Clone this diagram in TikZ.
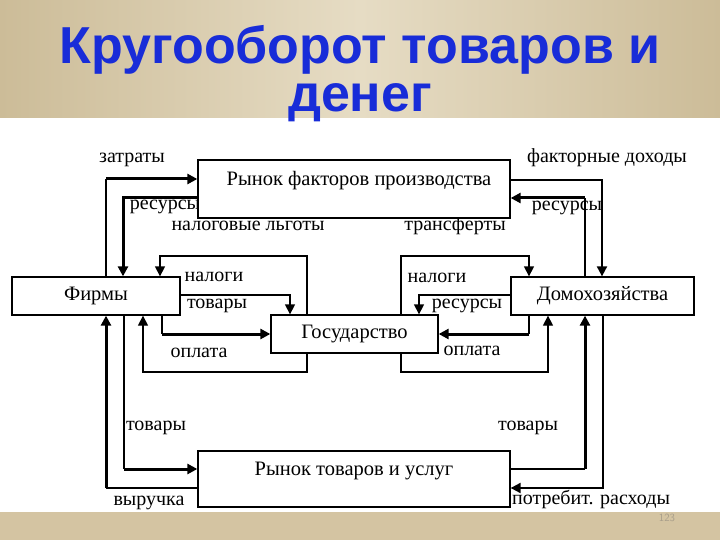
\documentclass[tikz,border=0pt]{standalone}
\usepackage{fontspec}
\setmainfont{Liberation Serif}
\newfontfamily\titlefont{Liberation Sans}
\usetikzlibrary{arrows.meta}
\definecolor{ttl}{RGB}{24,44,216}
\definecolor{tanD}{RGB}{204,188,152}
\definecolor{tanL}{RGB}{230,220,196}
\definecolor{tanB}{RGB}{212,196,162}
\definecolor{pgc}{RGB}{168,158,138}
\begin{document}
\begin{tikzpicture}[x=1pt,y=-1pt,
  box/.style={draw, line width=1.3pt, fill=white, inner sep=0pt, text height=13pt, text depth=4pt, font=\fontsize{20.5}{23}\selectfont},
  lab/.style={inner sep=0pt, anchor=base, font=\fontsize{20}{22}\selectfont},
  w1/.style={line width=1.3pt},
  w2/.style={line width=2pt},
  w3/.style={line width=3pt},
  arr/.style={-{Triangle[length=10pt,width=10pt]}}]
\useasboundingbox (0,0) rectangle (720,540);
% background bands
\shade[left color=tanD, right color=tanD, middle color=tanL] (0,0) rectangle (720,118);
\fill[tanB] (0,512) rectangle (720,540);
\node[inner sep=0pt, anchor=base, text=pgc, font=\sffamily\fontsize{11}{12}\selectfont] (pg) at (667,521) {123};
% title
\node[inner sep=0pt, anchor=base, text=ttl, font=\titlefont\bfseries\fontsize{52}{56}\selectfont] (t1) at (360,64) {Кругооборот товаров и};
\node[inner sep=0pt, anchor=base, text=ttl, font=\titlefont\bfseries\fontsize{52}{56}\selectfont] (t2) at (360,112) {денег};
% labels
\node[lab] (l1) at (132,163) {затраты};
\node[lab] (l2) at (165,210) {ресурсы};
\node[lab] (l3) at (248,230) {налоговые льготы};
\node[lab] (l4) at (455,230) {трансферты};
\node[lab] (l5) at (607,163) {факторные доходы};
\node[lab] (l6) at (567,211) {ресурсы};
\node[lab] (l7) at (214,281) {налоги};
\node[lab] (l8) at (217,308) {товары};
\node[lab] (l9) at (199,357) {оплата};
\node[lab] (l10) at (437,282) {налоги};
\node[lab] (l11) at (467,308) {ресурсы};
\node[lab] (l12) at (472,355) {оплата};
\node[lab] (l13) at (156,430) {товары};
\node[lab] (l14) at (149,505) {выручка};
\node[lab] (l15) at (528,430) {товары};
\node[lab] (l16) at (591,504) {потребит. расходы};
% boxes
\node[box, minimum width=312pt, minimum height=58pt, text depth=19pt] (fm) at (354,189) {\hspace*{10pt}Рынок факторов производства};
\node[box, minimum width=168pt, minimum height=38pt] (fi) at (96,296) {Фирмы};
\node[box, minimum width=167pt, minimum height=38pt] (go) at (354.5,334) {Государство};
\node[box, minimum width=183pt, minimum height=38pt] (ho) at (602.5,296) {Домохозяйства};
\node[box, minimum width=312pt, minimum height=56pt, text depth=21pt] (gm) at (354,479) {Рынок товаров и услуг};
% corner coordinates
\coordinate (z1) at (106,179);
\coordinate (r1) at (123,198);
\coordinate (g1) at (307,256);
\coordinate (g2) at (160,256);
\coordinate (t1c) at (290,295);
\coordinate (c1) at (162,334);
\coordinate (o1) at (307,372);
\coordinate (o2) at (143,372);
\coordinate (v1) at (106,488);
\coordinate (tb) at (124,469);
\coordinate (f1) at (602,180);
\coordinate (r2) at (585,198);
\coordinate (tr1) at (401,256);
\coordinate (tr2) at (529,256);
\coordinate (n1) at (419,295);
\coordinate (p1) at (529,334);
\coordinate (q1) at (401,372);
\coordinate (q2) at (548,372);
\coordinate (u1) at (585,469);
\coordinate (s1) at (603,488);
% left connectors
\draw[w2] (fi.north -| z1) -- (z1);
\draw[w3,arr] (z1) -- (fm.west |- z1);
\draw[w3,arr] (fm.west |- r1) -| (fi.north -| r1);
\draw[w1,arr] (go.north -| g1) -- (g1) -| (fi.north -| g2);
\draw[w1,arr] (fi.east |- t1c) -| (go.north -| t1c);
\draw[w1] (fi.south -| c1) -- (c1);
\draw[w3,arr] (c1) -- (go.west |- c1);
\draw[w1,arr] (go.south -| o1) -- (o1) -| (fi.south -| o2);
\draw[w2] (gm.west |- v1) -- (v1);
\draw[w3,arr] (v1) -- (fi.south -| v1);
\draw[w1] (fi.south -| tb) -- (tb);
\draw[w3,arr] (tb) -- (gm.west |- tb);
% right connectors
\draw[w2,arr] (fm.east |- f1) -| (ho.north -| f1);
\draw[w1] (ho.north -| r2) -- (r2);
\draw[w3,arr] (r2) -- (fm.east |- r2);
\draw[w1,arr] (go.north -| tr1) -- (tr1) -| (ho.north -| tr2);
\draw[w1,arr] (ho.west |- n1) -| (go.north -| n1);
\draw[w1] (ho.south -| p1) -- (p1);
\draw[w3,arr] (p1) -- (go.east |- p1);
\draw[w1,arr] (go.south -| q1) -- (q1) -| (ho.south -| q2);
\draw[w2] (gm.east |- u1) -- (u1);
\draw[w3,arr] (u1) -- (ho.south -| u1);
\draw[w2,arr] (ho.south -| s1) -- (s1) -- (gm.east |- s1);
\end{tikzpicture}
\end{document}
